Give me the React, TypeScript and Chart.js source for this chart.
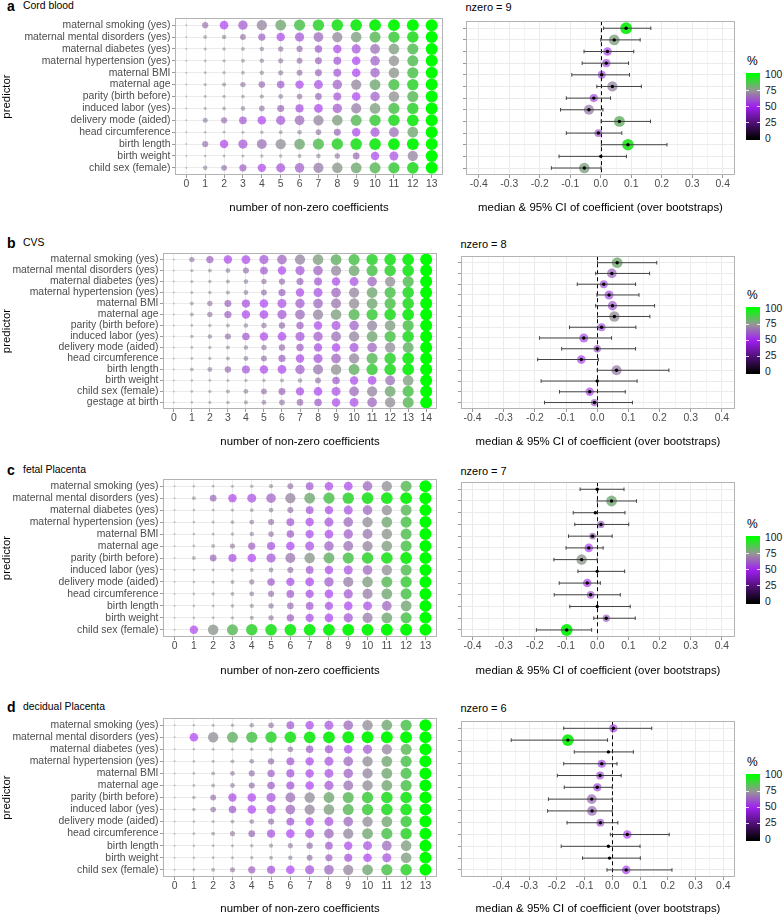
import React, { useEffect, useRef } from 'react';
import { Chart, registerables } from 'chart.js';

Chart.register(...registerables);

const FONT_FAMILY = '"Liberation Sans", Arial, Helvetica, sans-serif';
Chart.defaults.font.family = FONT_FAMILY;

// ---------------- categories & tick labels ----------------
const PREDICTORS = [
  'maternal smoking (yes)',
  'maternal mental disorders (yes)',
  'maternal diabetes (yes)',
  'maternal hypertension (yes)',
  'maternal BMI',
  'maternal age',
  'parity (birth before)',
  'induced labor (yes)',
  'delivery mode (aided)',
  'head circumference',
  'birth length',
  'birth weight',
  'child sex (female)',
];
const PREDICTORS_CVS = [...PREDICTORS, 'gestage at birth'];
const COEF_COUNTS_13 = [0, 1, 2, 3, 4, 5, 6, 7, 8, 9, 10, 11, 12, 13];
const COEF_COUNTS_14 = [0, 1, 2, 3, 4, 5, 6, 7, 8, 9, 10, 11, 12, 13, 14];
const FOREST_TICKS = [-0.4, -0.3, -0.2, -0.1, 0, 0.1, 0.2, 0.3, 0.4];
const LEGEND_TICKS = [0, 25, 50, 75, 100];

// ---------------- a: Cord blood ----------------
const CORD_PCT = [
  [0, 25, 50, 60, 72, 80, 86, 90, 93, 95, 97, 98, 99, 100],
  [0, 8, 12, 22, 35, 48, 58, 65, 73, 78, 84, 88, 92, 100],
  [0, 4, 6, 8, 12, 18, 25, 38, 48, 57, 66, 78, 85, 100],
  [0, 3, 5, 8, 12, 16, 22, 32, 42, 50, 62, 75, 85, 100],
  [0, 3, 5, 7, 11, 16, 22, 32, 42, 50, 62, 76, 86, 100],
  [0, 5, 10, 18, 28, 38, 48, 55, 62, 72, 80, 86, 90, 100],
  [0, 3, 5, 7, 10, 14, 20, 30, 42, 50, 62, 75, 84, 100],
  [0, 4, 7, 12, 20, 32, 45, 52, 60, 70, 78, 86, 90, 100],
  [0, 15, 25, 40, 50, 58, 65, 72, 78, 84, 88, 92, 95, 100],
  [0, 2, 3, 4, 6, 8, 12, 20, 32, 48, 57, 66, 80, 100],
  [0, 25, 48, 58, 66, 74, 80, 85, 90, 93, 95, 97, 98, 100],
  [0, 2, 3, 4, 5, 6, 8, 12, 18, 30, 48, 55, 72, 100],
  [0, 12, 22, 35, 48, 56, 62, 70, 76, 80, 84, 88, 92, 100],
];
const CORD_NZERO = 9;
const CORD_MEDIAN = [0.083, 0.044, 0.022, 0.018, 0.003, 0.038, -0.023, -0.039, 0.061, -0.008, 0.089, 0.0, -0.054];
const CORD_LOWER = [0.009, 0.0, -0.055, -0.061, -0.095, -0.013, -0.113, -0.132, 0.001, -0.113, 0.002, -0.137, -0.162];
const CORD_UPPER = [0.164, 0.129, 0.108, 0.091, 0.094, 0.133, 0.032, 0.007, 0.163, 0.069, 0.217, 0.084, 0.001];
const CORD_FOREST_PCT = [96, 78, 50, 45, 42, 72, 45, 70, 82, 40, 93, 0, 78];
const CORD_X_RANGE = [-0.442, 0.44];

// ---------------- b: CVS ----------------
const CVS_PCT = [
  [0, 18, 35, 48, 53, 58, 64, 72, 78, 82, 86, 90, 93, 96, 100],
  [0, 5, 8, 14, 24, 40, 48, 58, 63, 72, 80, 86, 90, 94, 100],
  [0, 4, 6, 9, 13, 18, 25, 33, 42, 48, 55, 64, 74, 85, 100],
  [0, 4, 6, 9, 14, 22, 34, 48, 55, 64, 72, 80, 86, 92, 100],
  [0, 8, 18, 32, 45, 50, 55, 60, 64, 68, 74, 80, 86, 92, 100],
  [0, 8, 18, 35, 48, 52, 58, 65, 72, 78, 84, 88, 92, 95, 100],
  [0, 3, 5, 8, 12, 18, 26, 36, 48, 55, 62, 72, 78, 86, 100],
  [0, 6, 12, 24, 38, 48, 52, 57, 60, 66, 72, 80, 86, 92, 100],
  [0, 3, 5, 8, 12, 18, 26, 36, 46, 50, 56, 64, 74, 82, 100],
  [0, 3, 5, 8, 14, 22, 34, 48, 56, 64, 72, 84, 90, 95, 100],
  [0, 7, 14, 26, 42, 48, 52, 60, 68, 75, 82, 88, 92, 96, 100],
  [0, 2, 3, 4, 5, 6, 8, 12, 22, 38, 48, 52, 66, 78, 100],
  [0, 3, 5, 9, 14, 22, 32, 46, 50, 55, 65, 72, 80, 86, 100],
  [0, 2, 4, 6, 9, 14, 20, 28, 38, 48, 54, 64, 74, 84, 100],
];
const CVS_NZERO = 8;
const CVS_MEDIAN = [0.064, 0.047, 0.021, 0.038, 0.049, 0.055, 0.014, -0.043, 0.0, -0.051, 0.062, 0.0, -0.024, -0.009];
const CVS_LOWER = [0.001, -0.005, -0.064, -0.001, -0.005, 0.001, -0.089, -0.185, -0.114, -0.191, 0.0, -0.18, -0.121, -0.169];
const CVS_UPPER = [0.191, 0.168, 0.123, 0.134, 0.184, 0.169, 0.124, 0.046, 0.123, 0.004, 0.23, 0.128, 0.09, 0.113];
const CVS_FOREST_PCT = [80, 64, 42, 55, 60, 74, 42, 55, 38, 52, 70, 0, 48, 35];
const CVS_X_RANGE = [-0.437, 0.442];

// ---------------- c: fetal Placenta ----------------
const FETAL_PCT = [
  [0, 2, 3, 4, 6, 10, 22, 40, 48, 52, 64, 74, 84, 100],
  [0, 8, 30, 48, 55, 62, 72, 80, 86, 90, 93, 95, 97, 100],
  [0, 2, 3, 5, 8, 14, 24, 42, 48, 55, 64, 74, 84, 100],
  [0, 2, 4, 8, 14, 24, 42, 48, 56, 64, 74, 80, 86, 100],
  [0, 2, 4, 6, 12, 20, 38, 47, 52, 60, 68, 76, 85, 100],
  [0, 3, 8, 16, 35, 44, 50, 55, 62, 66, 72, 78, 86, 100],
  [0, 8, 30, 45, 50, 58, 68, 76, 82, 86, 90, 93, 96, 100],
  [0, 2, 3, 5, 8, 14, 24, 40, 48, 55, 64, 74, 85, 100],
  [0, 2, 4, 8, 16, 38, 46, 52, 60, 70, 78, 84, 88, 100],
  [0, 2, 4, 8, 14, 24, 40, 46, 50, 58, 70, 80, 86, 100],
  [0, 2, 3, 6, 10, 18, 28, 40, 46, 50, 54, 64, 80, 100],
  [0, 2, 3, 5, 10, 18, 36, 46, 50, 58, 70, 80, 86, 100],
  [0, 48, 76, 84, 90, 93, 95, 96, 97, 98, 98, 99, 99, 100],
];
const FETAL_NZERO = 7;
const FETAL_MEDIAN = [0.0, 0.046, -0.006, 0.012, -0.015, -0.027, -0.05, 0.0, -0.032, -0.021, 0.0, 0.029, -0.098];
const FETAL_LOWER = [-0.055, 0.0, -0.077, -0.072, -0.092, -0.1, -0.139, -0.062, -0.122, -0.138, -0.088, -0.011, -0.195];
const FETAL_UPPER = [0.086, 0.126, 0.089, 0.101, 0.048, 0.019, 0.0, 0.088, 0.01, 0.074, 0.106, 0.122, -0.018];
const FETAL_FOREST_PCT = [0, 80, 0, 35, 30, 50, 76, 0, 50, 40, 0, 35, 97];
const FETAL_X_RANGE = [-0.437, 0.442];

// ---------------- d: decidual Placenta ----------------
const DECIDUAL_PCT = [
  [0, 2, 4, 6, 12, 20, 40, 48, 55, 64, 74, 80, 86, 100],
  [0, 50, 74, 82, 86, 90, 93, 95, 96, 97, 98, 99, 99, 100],
  [0, 2, 3, 4, 6, 10, 20, 38, 44, 50, 58, 72, 84, 100],
  [0, 2, 4, 8, 14, 26, 42, 48, 55, 64, 74, 80, 86, 100],
  [0, 3, 8, 14, 24, 36, 44, 48, 54, 62, 72, 80, 86, 100],
  [0, 3, 8, 14, 24, 38, 44, 50, 58, 66, 74, 80, 86, 100],
  [0, 6, 22, 46, 50, 57, 66, 74, 80, 84, 88, 92, 94, 100],
  [0, 6, 20, 38, 50, 56, 64, 72, 78, 84, 88, 92, 94, 100],
  [0, 2, 4, 8, 14, 24, 42, 48, 55, 64, 74, 80, 88, 100],
  [0, 3, 8, 16, 30, 44, 50, 56, 64, 72, 80, 86, 90, 100],
  [0, 2, 3, 4, 6, 10, 16, 26, 40, 48, 55, 65, 78, 100],
  [0, 2, 3, 4, 5, 8, 12, 22, 34, 44, 50, 57, 78, 100],
  [0, 3, 8, 16, 35, 44, 50, 56, 64, 72, 80, 86, 90, 100],
];
const DECIDUAL_NZERO = 6;
const DECIDUAL_MEDIAN = [0.004, -0.16, -0.014, -0.038, -0.044, -0.054, -0.074, -0.073, -0.043, 0.054, -0.014, -0.01, 0.05];
const DECIDUAL_LOWER = [-0.175, -0.364, -0.137, -0.175, -0.198, -0.173, -0.23, -0.233, -0.163, -0.007, -0.184, -0.107, -0.019];
const DECIDUAL_UPPER = [0.142, -0.017, 0.076, 0.017, 0.032, 0.0, 0.0, 0.0, 0.02, 0.205, 0.1, 0.101, 0.215];
const DECIDUAL_FOREST_PCT = [45, 96, 0, 45, 42, 45, 66, 66, 40, 50, 0, 0, 50];
const DECIDUAL_X_RANGE = [-0.545, 0.442];

// ---------------- panels (data references) ----------------
const PANELS = [
  { letter: 'a', name: 'Cord blood', predictors: PREDICTORS, counts: COEF_COUNTS_13, pct: CORD_PCT, nzero: CORD_NZERO, median: CORD_MEDIAN, lower: CORD_LOWER, upper: CORD_UPPER, fpct: CORD_FOREST_PCT, xRange: CORD_X_RANGE },
  { letter: 'b', name: 'CVS', predictors: PREDICTORS_CVS, counts: COEF_COUNTS_14, pct: CVS_PCT, nzero: CVS_NZERO, median: CVS_MEDIAN, lower: CVS_LOWER, upper: CVS_UPPER, fpct: CVS_FOREST_PCT, xRange: CVS_X_RANGE },
  { letter: 'c', name: 'fetal Placenta', predictors: PREDICTORS, counts: COEF_COUNTS_13, pct: FETAL_PCT, nzero: FETAL_NZERO, median: FETAL_MEDIAN, lower: FETAL_LOWER, upper: FETAL_UPPER, fpct: FETAL_FOREST_PCT, xRange: FETAL_X_RANGE },
  { letter: 'd', name: 'decidual Placenta', predictors: PREDICTORS, counts: COEF_COUNTS_13, pct: DECIDUAL_PCT, nzero: DECIDUAL_NZERO, median: DECIDUAL_MEDIAN, lower: DECIDUAL_LOWER, upper: DECIDUAL_UPPER, fpct: DECIDUAL_FOREST_PCT, xRange: DECIDUAL_X_RANGE },
];

// ---------------- layout (pixels) ----------------
const LAYOUT = [
  { plotTop: 18, plotBottom: 175, leftL: 175, leftR: 443, forestL: 466, titleY: 6, xTitleY: 208, bar0: 138.5, bar100: 74.5 },
  { plotTop: 253, plotBottom: 409, leftL: 163, leftR: 437, forestL: 461, titleY: 243, xTitleY: 442, bar0: 372, bar100: 308.5 },
  { plotTop: 479, plotBottom: 637, leftL: 163, leftR: 437, forestL: 461, titleY: 470, xTitleY: 671, bar0: 602, bar100: 537.5 },
  { plotTop: 718, plotBottom: 877, leftL: 163, leftR: 437, forestL: 461, titleY: 707, xTitleY: 909, bar0: 839.5, bar100: 775 },
];
const FOREST_R = 735;
const PAD_TOP = 10;
const BOTTOM_PAD = 7;
const TICK_FONT = 10.4;
const TITLE_FONT = 11.4;
const TICK_COLOR = '#4d4d4d';
const GRID_MAJOR = '#ebebeb';
const GRID_MINOR = '#f4f4f4';
const TICK_MARK = '#9a9a9a';
const ERRBAR_COLOR = '#444444';
const Y_TICK_LEN = 3;
const Y_TICK_PAD = 1.5;

// ---------------- colour / size scales ----------------
const COLOR_STOPS: [number, number[]][] = [
  [0, [0, 0, 0]],
  [0.5, [160, 32, 240]],
  [0.75, [150, 150, 150]],
  [1, [0, 255, 0]],
];
function scaleRGB(p: number): number[] {
  for (let k = 1; k < COLOR_STOPS.length; k++) {
    const [p0, c0] = COLOR_STOPS[k - 1];
    const [p1, c1] = COLOR_STOPS[k];
    if (p <= p1) {
      const t = (p - p0) / (p1 - p0);
      return c0.map((c, i) => Math.round(c + (c1[i] - c) * t));
    }
  }
  return COLOR_STOPS[COLOR_STOPS.length - 1][1];
}
const fillFor = (pct: number) => {
  const p = Math.max(0, Math.min(1, pct / 100));
  const [r, g, b] = scaleRGB(p);
  return `rgba(${r},${g},${b},${(0.2 + 0.8 * p).toFixed(3)})`;
};
const radiusFor = (pct: number) => Math.sqrt(1 + 35 * pct / 100);

function widestLabel(labels: string[]): number {
  const ctx = document.createElement('canvas').getContext('2d');
  if (!ctx) return 146;
  ctx.font = `normal ${TICK_FONT}px ${FONT_FAMILY}`;
  return Math.max(...labels.map((l) => ctx.measureText(l).width));
}

// ---------------- plugins ----------------
const framePlugin = {
  id: 'frame',
  afterDraw(chart: any) {
    const { ctx, chartArea: a } = chart;
    ctx.save();
    ctx.strokeStyle = '#b3b3b3';
    ctx.lineWidth = 1;
    ctx.strokeRect(Math.round(a.left) + 0.5, Math.round(a.top) + 0.5, Math.round(a.right - a.left) - 1, Math.round(a.bottom - a.top) - 1);
    ctx.restore();
  },
};
const zeroLinePlugin = {
  id: 'zeroLine',
  beforeDatasetsDraw(chart: any) {
    const { ctx, chartArea: a, scales } = chart;
    const x = Math.round(scales.x.getPixelForValue(0)) + 0.5;
    ctx.save();
    ctx.strokeStyle = '#000';
    ctx.lineWidth = 1;
    ctx.setLineDash([4, 3]);
    ctx.beginPath();
    ctx.moveTo(x, a.top);
    ctx.lineTo(x, a.bottom);
    ctx.stroke();
    ctx.restore();
  },
};

// ---------------- chart configs ----------------
function gridChartConfig(panel: any, L: any) {
  const cells: any[] = [];
  const colors: string[] = [];
  panel.pct.forEach((row: number[], i: number) =>
    row.forEach((v: number, j: number) => {
      cells.push({ x: panel.counts[j], y: i, r: radiusFor(v) });
      colors.push(fillFor(v));
    })
  );
  const nRows = panel.predictors.length;
  const maxCount = panel.counts[panel.counts.length - 1];
  const canvasTop = L.plotTop - PAD_TOP;
  const canvasBottom = L.xTitleY + BOTTOM_PAD;
  const titleExtra = L.leftL - (TITLE_FONT * 1.2 + widestLabel(panel.predictors) + Y_TICK_LEN + Y_TICK_PAD);
  return {
    type: 'bubble',
    data: { datasets: [{ data: cells, backgroundColor: colors, borderWidth: 0, hoverBorderWidth: 0, hoverRadius: 0 }] },
    options: {
      animation: false,
      responsive: false,
      events: [],
      layout: { autoPadding: false, padding: { top: PAD_TOP, right: 4, left: 0, bottom: 0 } },
      plugins: { legend: { display: false }, tooltip: { enabled: false } },
      scales: {
        x: {
          type: 'linear',
          min: -0.6,
          max: maxCount + 0.6,
          afterBuildTicks: (s: any) => { s.ticks = panel.counts.map((v: number) => ({ value: v })); },
          afterFit: (s: any) => { s.height = canvasBottom - L.plotBottom; },
          ticks: { color: TICK_COLOR, font: { size: TICK_FONT }, padding: 0, maxRotation: 0, autoSkip: false, callback: (v: any) => String(v) },
          grid: { color: GRID_MAJOR, lineWidth: 1, tickLength: 3, tickColor: TICK_MARK, tickWidth: 1 },
          border: { display: false },
          title: { display: true, text: 'number of non-zero coefficients', color: '#000', font: { size: TITLE_FONT }, padding: { top: 0, bottom: BOTTOM_PAD - TITLE_FONT * 0.6 } },
        },
        y: {
          type: 'linear',
          reverse: true,
          min: -0.6,
          max: nRows - 1 + 0.6,
          afterBuildTicks: (s: any) => { s.ticks = panel.predictors.map((_: string, i: number) => ({ value: i })); },
          afterFit: (s: any) => { s.width = L.leftL; },
          ticks: { color: TICK_COLOR, font: { size: TICK_FONT }, padding: Y_TICK_PAD, autoSkip: false, callback: (v: any) => panel.predictors[v] },
          grid: { color: GRID_MAJOR, lineWidth: 1, tickLength: Y_TICK_LEN, tickColor: TICK_MARK, tickWidth: 1 },
          border: { display: false },
          title: { display: true, text: 'predictor', color: '#000', font: { size: TITLE_FONT }, padding: { top: 0, bottom: titleExtra } },
        },
      },
    },
    plugins: [framePlugin],
    box: { left: 0, top: canvasTop, width: L.leftR + 4, height: canvasBottom - canvasTop },
  };
}

function forestChartConfig(panel: any, L: any) {
  const nRows = panel.predictors.length;
  const rows = panel.predictors.map((_: string, i: number) => i);
  const bars: any[] = [];
  rows.forEach((i: number) => {
    bars.push({ x: panel.lower[i], y: i }, { x: panel.upper[i], y: i }, { x: null, y: null });
  });
  const [xmin, xmax] = panel.xRange;
  const gridTicks: number[] = [];
  for (let k = Math.ceil(xmin / 0.05 - 1e-9); k * 0.05 <= xmax + 1e-9; k++) gridTicks.push(Math.round(k * 5) / 100);
  const isMajor = (v: number) => FOREST_TICKS.some((t) => Math.abs(t - v) < 1e-9);
  const canvasLeft = L.forestL - 10;
  const canvasTop = L.plotTop - PAD_TOP;
  const canvasBottom = L.xTitleY + BOTTOM_PAD;
  return {
    type: 'scatter',
    data: {
      datasets: [
        {
          data: rows.map((i: number) => ({ x: panel.median[i], y: i })),
          pointRadius: 1.7,
          pointBackgroundColor: '#000',
          pointBorderWidth: 0,
          order: 0,
        },
        {
          data: bars,
          showLine: true,
          borderColor: ERRBAR_COLOR,
          borderWidth: 1,
          pointStyle: 'line',
          pointRotation: 90,
          pointRadius: 1.8,
          pointBorderColor: ERRBAR_COLOR,
          pointBorderWidth: 1,
          order: 1,
        },
        {
          data: rows.map((i: number) => ({ x: panel.median[i], y: i })),
          pointRadius: rows.map((i: number) => (panel.fpct[i] > 0 ? radiusFor(panel.fpct[i]) : 0)),
          pointBackgroundColor: rows.map((i: number) => fillFor(panel.fpct[i])),
          pointBorderWidth: 0,
          order: 2,
        },
      ],
    },
    options: {
      animation: false,
      responsive: false,
      events: [],
      layout: { autoPadding: false, padding: { top: PAD_TOP, right: 4, left: 0, bottom: 0 } },
      plugins: { legend: { display: false }, tooltip: { enabled: false } },
      scales: {
        x: {
          type: 'linear',
          min: xmin,
          max: xmax,
          afterBuildTicks: (s: any) => { s.ticks = gridTicks.map((v) => ({ value: v })); },
          afterFit: (s: any) => { s.height = canvasBottom - L.plotBottom; },
          ticks: {
            color: TICK_COLOR, font: { size: TICK_FONT }, padding: 0, maxRotation: 0, autoSkip: false,
            callback: (v: any) => (isMajor(v) ? (Math.round(v * 10) / 10 + 0).toFixed(1) : ''),
          },
          grid: {
            color: (c: any) => (c.tick && isMajor(c.tick.value) ? GRID_MAJOR : GRID_MINOR),
            lineWidth: 1,
            tickLength: 3,
            tickColor: (c: any) => (c.tick && isMajor(c.tick.value) ? TICK_MARK : 'rgba(0,0,0,0)'),
            tickWidth: 1,
          },
          border: { display: false },
          title: { display: true, text: 'median & 95% CI of coefficient (over bootstraps)', color: '#000', font: { size: TITLE_FONT }, padding: { top: 0, bottom: BOTTOM_PAD - TITLE_FONT * 0.6 } },
        },
        y: {
          type: 'linear',
          reverse: true,
          min: -0.6,
          max: nRows - 1 + 0.6,
          afterBuildTicks: (s: any) => { s.ticks = rows.map((i: number) => ({ value: i })); },
          afterFit: (s: any) => { s.width = 10; },
          ticks: { font: { size: TICK_FONT }, padding: 7, autoSkip: false, callback: () => '' },
          grid: { color: GRID_MAJOR, lineWidth: 1, tickLength: 3, tickColor: TICK_MARK, tickWidth: 1 },
          border: { display: false },
        },
      },
    },
    plugins: [zeroLinePlugin, framePlugin],
    box: { left: canvasLeft, top: canvasTop, width: FOREST_R + 4 - canvasLeft, height: canvasBottom - canvasTop },
  };
}

// ---------------- components ----------------
function ChartBox({ config }: { config: any }) {
  const ref = useRef<HTMLCanvasElement | null>(null);
  const { box, ...cfg } = config;
  useEffect(() => {
    if (!ref.current) return;
    const chart = new Chart(ref.current, cfg as any);
    return () => chart.destroy();
  }, []);
  return (
    <canvas
      ref={ref}
      width={box.width}
      height={box.height}
      style={{ position: 'absolute', left: box.left, top: box.top, width: box.width, height: box.height }}
    />
  );
}

function Label({ x, cy, size, bold, color, children }: any) {
  const h = 18;
  return (
    <div
      style={{
        position: 'absolute', left: x, top: cy - h / 2, height: h, lineHeight: h + 'px',
        fontSize: size, fontWeight: bold ? 'bold' : 'normal', color: color || '#000',
        whiteSpace: 'nowrap', fontFamily: FONT_FAMILY,
      }}
    >
      {children}
    </div>
  );
}

function ColorBar({ bar0, bar100 }: { bar0: number; bar100: number }) {
  const h = bar0 - bar100;
  const ext = 1.5;
  const yFor = (v: number) => bar0 - (v / 100) * h;
  const stops = COLOR_STOPS.map(([p, c]) => `rgb(${c.join(',')}) ${(((ext + p * h) / (h + 2 * ext)) * 100).toFixed(2)}%`).join(', ');
  return (
    <>
      <Label x={747} cy={bar100 - 13.5} size={12}>%</Label>
      <div style={{ position: 'absolute', left: 746, top: bar100 - ext, width: 14, height: h + 2 * ext, background: `linear-gradient(to top, ${stops})` }} />
      {LEGEND_TICKS.filter((v) => v > 0 && v < 100).map((v) => (
        <React.Fragment key={'t' + v}>
          <div style={{ position: 'absolute', left: 746, top: yFor(v) - 0.5, width: 3, height: 1, background: 'rgba(255,255,255,0.8)' }} />
          <div style={{ position: 'absolute', left: 757, top: yFor(v) - 0.5, width: 3, height: 1, background: 'rgba(255,255,255,0.8)' }} />
        </React.Fragment>
      ))}
      {LEGEND_TICKS.map((v) => (
        <Label key={v} x={765} cy={yFor(v)} size={TICK_FONT} color="#1a1a1a">{String(v)}</Label>
      ))}
    </>
  );
}

function PanelView({ panel, L }: { panel: any; L: any }) {
  return (
    <>
      <Label x={7} cy={L.titleY} size={14} bold>{panel.letter}</Label>
      <Label x={23} cy={L.titleY} size={TICK_FONT}>{panel.name}</Label>
      <Label x={L.forestL - 0.5} cy={L.titleY + 0.5} size={11}>{'nzero = ' + panel.nzero}</Label>
      <ChartBox config={gridChartConfig(panel, L)} />
      <ChartBox config={forestChartConfig(panel, L)} />
      <ColorBar bar0={L.bar0} bar100={L.bar100} />
    </>
  );
}

export default function App() {
  return (
    <div
      style={{
        position: 'absolute', left: 0, top: 0, width: 784, height: 916, overflow: 'hidden',
        background: '#fff', fontFamily: FONT_FAMILY,
      }}
    >
      {PANELS.map((p, k) => (
        <PanelView key={k} panel={p} L={LAYOUT[k]} />
      ))}
    </div>
  );
}
